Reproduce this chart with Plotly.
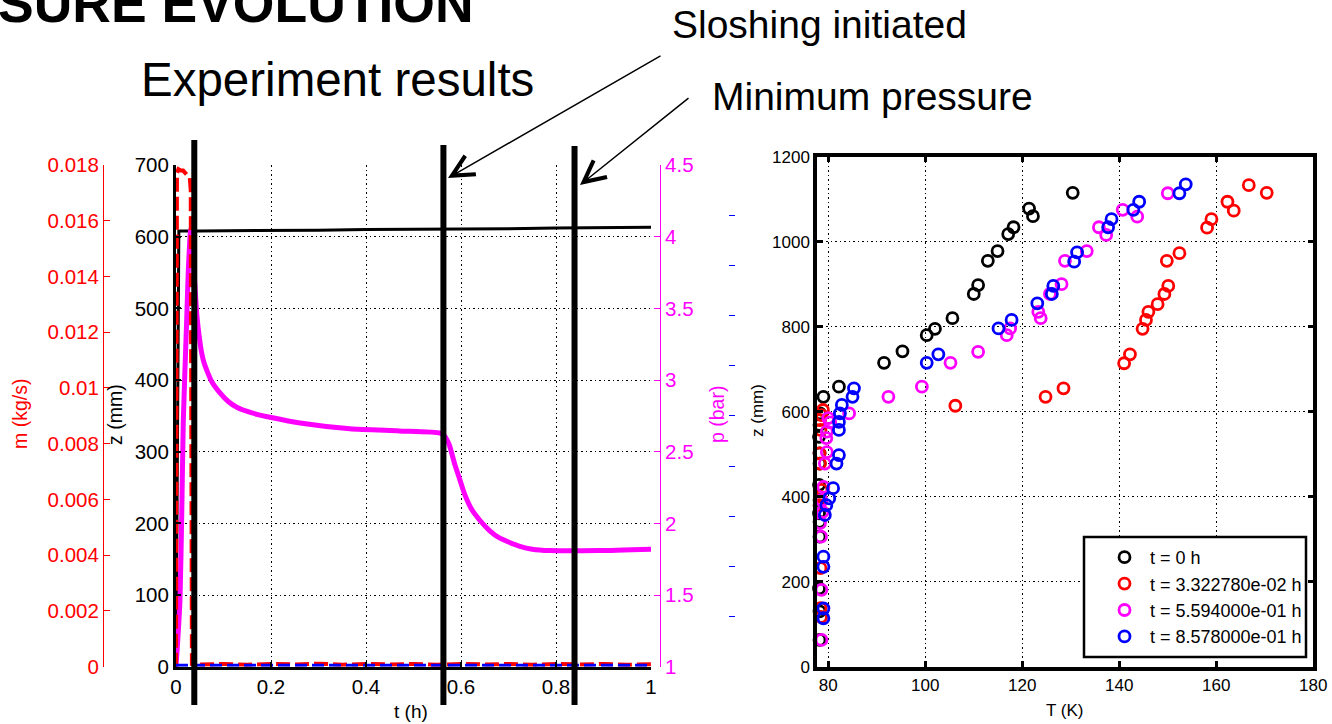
import plotly.graph_objects as go

# ---------------- left panel: time histories ----------------
t_level = [0.0, 0.006, 0.05, 0.1, 0.2, 0.3, 0.4, 0.5, 0.6, 0.7, 0.8, 0.9, 1.0]
z_level = [0, 608, 608, 608, 609, 609, 610, 610, 610, 611, 612, 612, 613]

t_flow = [0.0, 0.002, 0.005, 0.01, 0.015, 0.02, 0.025, 0.029, 0.031, 0.032, 0.0335,
          0.05, 0.1, 0.15, 0.2, 0.25, 0.3, 0.35, 0.4, 0.45, 0.5, 0.55, 0.6, 0.65,
          0.7, 0.75, 0.8, 0.85, 0.9, 0.95, 1.0]
m_flow = [0.0, 0.0177, 0.01785, 0.0178, 0.0178, 0.0177, 0.0176, 0.01753, 0.0171, 0.012, 0.0001,
          0.00008, 0.0001, 0.00007, 0.0001, 0.00008, 0.00011, 0.00007, 0.0001, 0.00008, 0.0001,
          0.00007, 0.0001, 0.00008, 0.0001, 0.00007, 0.0001, 0.00008, 0.0001, 0.00007, 0.00009]

t_press = [0.0, 0.004, 0.0084, 0.012, 0.0154, 0.0225, 0.026, 0.031, 0.038, 0.044, 0.049,
           0.054, 0.059, 0.0646, 0.075, 0.0926, 0.11, 0.128, 0.16, 0.198, 0.261, 0.366,
           0.47, 0.556, 0.565, 0.575, 0.587, 0.598, 0.608, 0.622, 0.64, 0.66, 0.68, 0.70,
           0.724, 0.75, 0.787, 0.89, 1.0]
p_bar = [1.0, 1.2, 1.47, 2.05, 2.72, 3.42, 3.77, 4.05, 3.75, 3.45, 3.3,
         3.19, 3.12, 3.07, 2.99, 2.91, 2.85, 2.81, 2.77, 2.74, 2.70, 2.66,
         2.645, 2.63, 2.61, 2.55, 2.41, 2.30, 2.20, 2.10, 2.02, 1.95, 1.90, 1.87,
         1.84, 1.82, 1.81, 1.81, 1.82]

t_blue = [0.0, 1.0]
blue_val = [0.03, 0.03]

marker_times = [0.0385, 0.563, 0.839]   # hand-drawn vertical markers
marker_tops_px = [140, 145, 146]

# ---------------- right panel: temperature profiles ----------------
legend_names = ["t = 0 h", "t = 3.322780e-02 h", "t = 5.594000e-01 h", "t = 8.578000e-01 h"]

T_0 = [78.2, 78.2, 78.1, 78.2, 78.2, 78.1, 78.2, 78.1, 78.2, 78.2, 78.1, 78.2, 78.3,
       79.0, 82.2, 91.5, 95.3, 100.3, 102.0, 105.6, 110.0, 110.9, 112.9, 114.9, 117.1,
       118.2, 121.4, 122.2, 130.4]
z_0 = [63, 130, 184, 306, 341, 361, 392, 428, 478, 502, 541, 569, 596,
       635, 659, 715, 742, 780, 795, 820, 877, 898, 955, 978, 1018,
       1034, 1078, 1060, 1115]

T_1 = [78.5, 78.4, 78.4, 78.2, 78.3, 78.6, 78.3, 78.2, 78.4, 78.3, 78.6, 78.9,
       106.2, 124.8, 128.5, 141.0, 142.2, 144.8, 145.5, 146.0, 147.9, 149.3, 150.1,
       149.8, 152.4, 158.1, 159.0, 162.3, 163.6, 166.7, 170.4]
z_1 = [117, 138, 232, 380, 400, 416, 478, 502, 557, 580, 592, 604,
       614, 635, 655, 714, 735, 795, 816, 835, 853, 877, 896,
       955, 973, 1033, 1053, 1094, 1073, 1133, 1115]

T_2 = [78.6, 78.6, 78.5, 78.3, 78.8, 78.6, 79.0, 79.3, 79.7, 79.6, 79.7, 80.0, 80.4,
       84.3, 92.4, 99.3, 105.2, 110.9, 116.8, 117.5, 123.3, 123.8, 125.7, 128.1, 128.8,
       133.3, 135.8, 137.3, 140.7, 143.7, 150.0]
z_2 = [63, 181, 306, 338, 364, 392, 423, 478, 505, 538, 553, 585, 575,
       596, 635, 659, 715, 741, 780, 796, 835, 820, 877, 900, 955,
       978, 1034, 1016, 1075, 1059, 1114]

T_3 = [79.0, 79.0, 79.0, 79.0, 79.3, 79.6, 80.2, 81.0, 81.7, 82.2, 82.2, 82.2, 82.4,
       82.8, 85.0, 85.3, 100.3, 102.7, 115.1, 117.8, 123.1, 126.1, 126.4, 130.7, 131.3,
       137.7, 138.4, 142.9, 144.1, 152.4, 153.7]
z_3 = [114, 137, 235, 259, 357, 380, 396, 420, 478, 498, 557, 576, 596,
       616, 635, 655, 715, 735, 796, 816, 855, 877, 896, 953, 975,
       1034, 1053, 1075, 1094, 1114, 1135]

W, H = 1332, 724
FONT = "Liberation Sans, Arial, sans-serif"
MAG = "#ff00ff"
RED = "#ff0000"
BLUE = "#0000ff"


def px_x(x):
    return x / W


def px_y(y):
    return 1 - y / H


fig = go.Figure()

# left panel traces
fig.add_trace(go.Scatter(x=t_level, y=z_level, mode="lines", xaxis="x", yaxis="y",
                         line=dict(color="black", width=3), showlegend=False))
fig.add_trace(go.Scatter(x=t_press, y=p_bar, mode="lines", xaxis="x", yaxis="y2",
                         line=dict(color=MAG, width=5, shape="spline", smoothing=0.6),
                         showlegend=False))
fig.add_trace(go.Scatter(x=t_flow, y=m_flow, mode="lines", xaxis="x", yaxis="y3",
                         line=dict(color=RED, width=4, dash="14px,5px"), showlegend=False))
fig.add_trace(go.Scatter(x=t_blue, y=blue_val, mode="lines", xaxis="x", yaxis="y4",
                         line=dict(color=BLUE, width=3, dash="12px,5px"), showlegend=False))

# right panel traces
for T, z, col, name in [(T_0, z_0, "black", legend_names[0]),
                        (T_1, z_1, RED, legend_names[1]),
                        (T_2, z_2, MAG, legend_names[2]),
                        (T_3, z_3, BLUE, legend_names[3])]:
    fig.add_trace(go.Scatter(x=T, y=z, mode="markers", xaxis="x2", yaxis="y5", name=name,
                             cliponaxis=False,
                             marker=dict(symbol="circle-open", size=11, color=col,
                                         line=dict(color=col, width=2.8))))

ydom_left = [px_y(666.7), px_y(165)]
dot = "1.5px,3px"

layout = dict(
    width=W, height=H,
    margin=dict(l=0, r=0, t=0, b=0),
    paper_bgcolor="white", plot_bgcolor="white",
    font=dict(family=FONT, color="black"),
    showlegend=True,
    xaxis=dict(domain=[px_x(176), px_x(651)], range=[0, 1], anchor="y",
               tickvals=[0, 0.2, 0.4, 0.6, 0.8, 1.0], ticktext=["0", "0.2", "0.4", "0.6", "0.8", "1"],
               ticks="inside", ticklen=5, tickwidth=1.5, tickcolor="black",
               showline=True, linecolor="black", linewidth=3,
               showgrid=True, gridcolor="black", gridwidth=1, griddash=dot,
               zeroline=False, tickfont=dict(size=20.5, color="black"), automargin=False),
    yaxis=dict(domain=ydom_left, range=[0, 700], anchor="x", dtick=100,
               ticks="inside", ticklen=5, tickwidth=1.5, tickcolor="black",
               showline=True, linecolor="black", linewidth=3,
               showgrid=True, gridcolor="black", gridwidth=1, griddash=dot,
               zeroline=False, tickfont=dict(size=20.5, color="black"), automargin=False),
    yaxis2=dict(overlaying="y", anchor="free", side="right", position=px_x(660),
                range=[1, 4.5], dtick=0.5, ticks="inside", ticklen=6, tickwidth=1, tickcolor=MAG,
                showline=True, linecolor=MAG, linewidth=1, showgrid=False, zeroline=False,
                tickfont=dict(size=20.5, color=MAG), automargin=False),
    yaxis3=dict(overlaying="y", anchor="free", side="left", position=px_x(103),
                range=[0, 0.018], dtick=0.002, ticks="inside", ticklen=6, tickwidth=1, tickcolor=RED,
                showline=True, linecolor=RED, linewidth=1, showgrid=False, zeroline=False,
                tickfont=dict(size=20.5, color=RED), automargin=False),
    yaxis4=dict(overlaying="y", anchor="free", side="right", position=px_x(735),
                range=[0, 10], dtick=1, ticks="inside", ticklen=6, tickwidth=1, tickcolor=BLUE,
                showline=False, showgrid=False, zeroline=False, showticklabels=False,
                automargin=False),
    xaxis2=dict(domain=[px_x(817.1), px_x(1313.3)], range=[77.7, 180], anchor="y5",
                tickvals=[80, 100, 120, 140, 160, 180],
                ticks="inside", ticklen=6, tickwidth=3, tickcolor="black",
                showline=True, linecolor="black", linewidth=3.5, mirror="ticks",
                showgrid=True, gridcolor="black", gridwidth=1, griddash=dot,
                zeroline=False, tickfont=dict(size=17, color="black"), automargin=False),
    yaxis5=dict(domain=[px_y(666.7), px_y(156.7)], range=[0, 1200], anchor="x2", dtick=200,
                ticks="inside", ticklen=6, tickwidth=3, tickcolor="black",
                showline=True, linecolor="black", linewidth=3.5, mirror="ticks",
                showgrid=True, gridcolor="black", gridwidth=1, griddash=dot,
                zeroline=False, tickfont=dict(size=17, color="black"), automargin=False),
    legend=dict(x=px_x(1099), y=px_y(539), xanchor="left", yanchor="top",
                bgcolor="rgba(0,0,0,0)", borderwidth=0,
                font=dict(size=18, color="black", family=FONT), itemwidth=41,
                tracegroupgap=0),
)
fig.update_layout(**layout)

# legend frame
fig.add_shape(type="rect", xref="paper", yref="paper",
              x0=px_x(1084), x1=px_x(1306), y0=px_y(657), y1=px_y(537),
              line=dict(color="black", width=2.5), fillcolor="white", layer="above")

# vertical marker lines
for tm, top in zip(marker_times, marker_tops_px):
    fig.add_shape(type="line", xref="x", yref="paper", x0=tm, x1=tm,
                  y0=px_y(705), y1=px_y(top), line=dict(color="black", width=6), layer="above")

ann = []
# axis titles
ann.append(dict(text="m (kg/s)", x=px_x(20), y=px_y(414), textangle=-90, font=dict(size=19.5, color=RED)))
ann.append(dict(text="z (mm)", x=px_x(115), y=px_y(415), textangle=-90, font=dict(size=19.5, color="black")))
ann.append(dict(text="p (bar)", x=px_x(717), y=px_y(415), textangle=-90, font=dict(size=19.5, color=MAG)))
ann.append(dict(text="z (mm)", x=px_x(757), y=px_y(411), textangle=-90, font=dict(size=17, color="black")))
ann.append(dict(text="t (h)", x=px_x(411), y=px_y(711), font=dict(size=19, color="black")))
ann.append(dict(text="T (K)", x=px_x(1064), y=px_y(710), font=dict(size=17, color="black")))
# headings
ann.append(dict(text="<b>SURE EVOLUTION</b>", x=px_x(-4), y=px_y(3), xanchor="left",
                font=dict(size=53.5, color="black")))
ann.append(dict(text="Experiment results", x=px_x(337), y=px_y(80), font=dict(size=47.5, color="black")))
ann.append(dict(text="Sloshing initiated", x=px_x(819), y=px_y(24), font=dict(size=39, color="black")))
ann.append(dict(text="Minimum pressure", x=px_x(872), y=px_y(97), font=dict(size=39, color="black")))
for a in ann:
    a.setdefault("xanchor", "center")
    a["yanchor"] = "middle"
    a["xref"] = "paper"
    a["yref"] = "paper"
    a["showarrow"] = False
    a["font"]["family"] = FONT

# arrows
ann.append(dict(text="", x=px_x(448), y=px_y(178), xref="paper", yref="paper",
                ax=214, ay=-123, axref="pixel", ayref="pixel", showarrow=True,
                arrowhead=5, arrowsize=2.8, arrowwidth=1.5, arrowcolor="black", standoff=0))
ann.append(dict(text="", x=px_x(580), y=px_y(185), xref="paper", yref="paper",
                ax=110, ay=-88, axref="pixel", ayref="pixel", showarrow=True,
                arrowhead=5, arrowsize=2.8, arrowwidth=1.5, arrowcolor="black", standoff=0))
fig.update_layout(annotations=ann)

fig.write_html("out.html", config={"displayModeBar": False},
               post_script="document.body.style.margin='0px';document.body.style.overflow='hidden';")
